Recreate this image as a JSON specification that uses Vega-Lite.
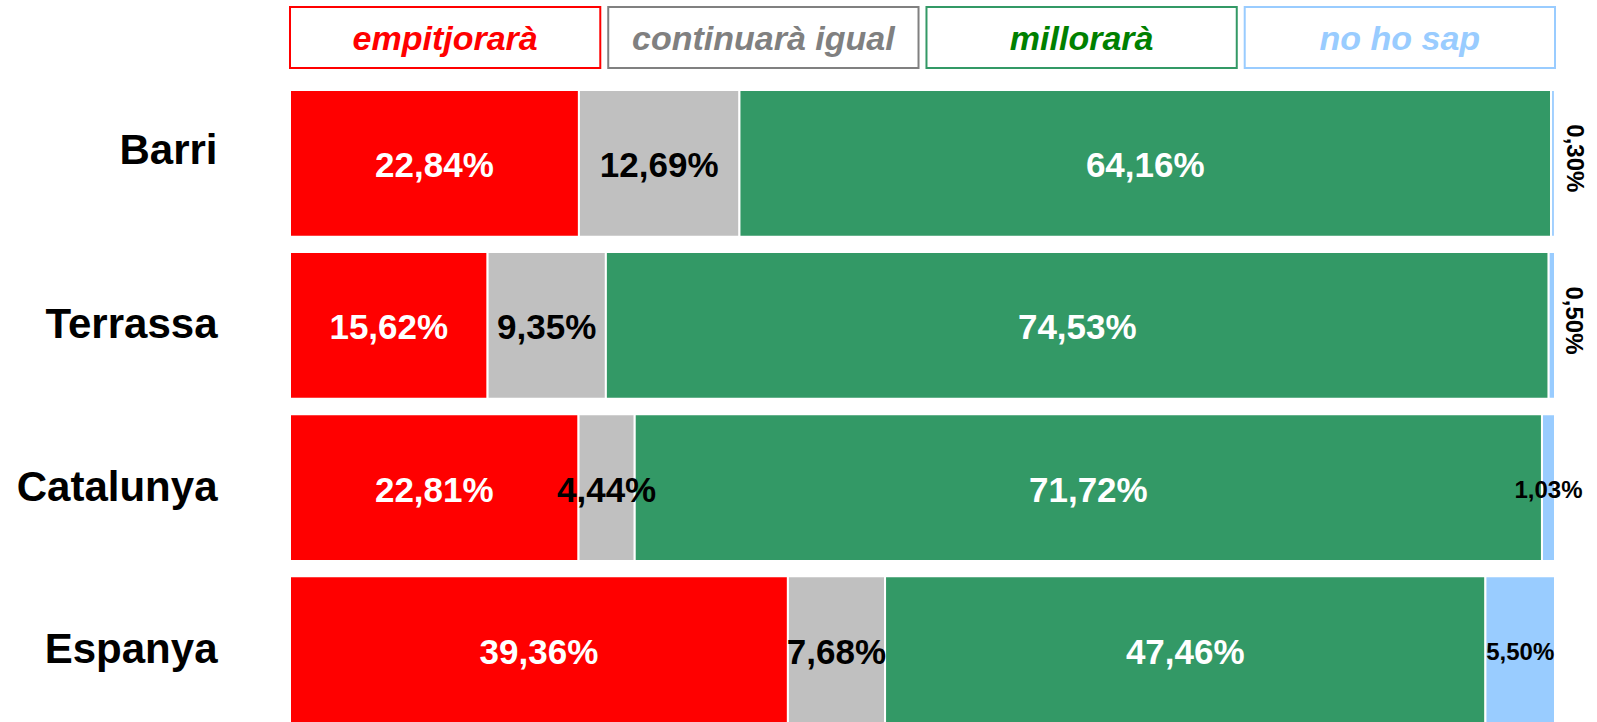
{
  "$schema": "https://vega.github.io/schema/vega-lite/v6.json",
  "padding": {"top": 6, "left": 0, "right": 0, "bottom": 0},
  "spacing": 20,
  "background": "white",
  "resolve": {"scale": {"color": "independent", "stroke": "independent"}},
  "config": {
    "view": {"stroke": null},
    "locale": {"number": {"decimal": ",", "thousands": ".", "grouping": [3], "currency": ["", " €"]}}
  },
  "datasets": {
    "cats": [
      {"cat": "empitjorarà", "k": 1},
      {"cat": "continuarà igual", "k": 2},
      {"cat": "millorarà", "k": 3},
      {"cat": "no ho sap", "k": 4}
    ],
    "results": [
      {"region": "Barri", "cat": "empitjorarà", "v": 0.2284},
      {"region": "Barri", "cat": "continuarà igual", "v": 0.1269},
      {"region": "Barri", "cat": "millorarà", "v": 0.6416},
      {"region": "Barri", "cat": "no ho sap", "v": 0.0030},
      {"region": "Terrassa", "cat": "empitjorarà", "v": 0.1562},
      {"region": "Terrassa", "cat": "continuarà igual", "v": 0.0935},
      {"region": "Terrassa", "cat": "millorarà", "v": 0.7453},
      {"region": "Terrassa", "cat": "no ho sap", "v": 0.0050},
      {"region": "Catalunya", "cat": "empitjorarà", "v": 0.2281},
      {"region": "Catalunya", "cat": "continuarà igual", "v": 0.0444},
      {"region": "Catalunya", "cat": "millorarà", "v": 0.7172},
      {"region": "Catalunya", "cat": "no ho sap", "v": 0.0103},
      {"region": "Espanya", "cat": "empitjorarà", "v": 0.3936},
      {"region": "Espanya", "cat": "continuarà igual", "v": 0.0768},
      {"region": "Espanya", "cat": "millorarà", "v": 0.4746},
      {"region": "Espanya", "cat": "no ho sap", "v": 0.0550}
    ]
  },
  "vconcat": [
    {
      "data": {"name": "cats"},
      "width": 1265,
      "height": 61,
      "encoding": {
        "x": {
          "field": "cat", "type": "nominal",
          "sort": ["empitjorarà", "continuarà igual", "millorarà", "no ho sap"],
          "axis": null,
          "scale": {"paddingInner": 0.025, "paddingOuter": 0}
        }
      },
      "layer": [
        {
          "mark": {"type": "rect", "fill": "white", "strokeWidth": 2},
          "encoding": {
            "stroke": {
              "field": "cat", "type": "nominal",
              "scale": {"domain": ["empitjorarà", "continuarà igual", "millorarà", "no ho sap"], "range": ["#FF0000", "#808080", "#339966", "#99CCFF"]},
              "legend": null
            }
          }
        },
        {
          "mark": {"type": "text", "font": "Liberation Sans", "fontSize": 34, "fontWeight": "bold", "fontStyle": "italic", "baseline": "middle", "align": "center", "dy": 2},
          "encoding": {
            "text": {"field": "cat"},
            "color": {
              "field": "cat", "type": "nominal",
              "scale": {"domain": ["empitjorarà", "continuarà igual", "millorarà", "no ho sap"], "range": ["#FF0000", "#808080", "#008000", "#99CCFF"]},
              "legend": null
            }
          }
        }
      ]
    },
    {
      "data": {"name": "results"},
      "width": 1265,
      "height": 633,
      "transform": [
        {"lookup": "cat", "from": {"data": {"name": "cats"}, "key": "cat", "fields": ["k"]}}
      ],
      "encoding": {
        "y": {
          "field": "region", "type": "nominal",
          "sort": ["Barri", "Terrassa", "Catalunya", "Espanya"],
          "scale": {"paddingInner": 0.095, "paddingOuter": 0},
          "axis": {
            "title": null, "ticks": false, "domain": false,
            "labelFont": "Liberation Sans", "labelFontSize": 42, "labelFontWeight": "bold", "labelColor": "black",
            "labelPadding": 73, "labelLimit": 0, "minExtent": 290, "maxExtent": 290,
            "labelOffset": {"condition": {"test": "datum.value === 'Barri'", "value": -12}, "value": 0}
          }
        },
        "order": {"field": "k", "type": "quantitative"},
        "detail": {"field": "cat"}
      },
      "layer": [
        {
          "mark": {"type": "bar", "stroke": "white", "strokeWidth": 2},
          "encoding": {
            "x": {"field": "v", "type": "quantitative", "stack": "zero", "scale": {"domain": [0, 1], "nice": false, "zero": true}, "axis": null},
            "color": {
              "field": "cat", "type": "nominal",
              "scale": {"domain": ["empitjorarà", "continuarà igual", "millorarà", "no ho sap"], "range": ["#FF0000", "#C0C0C0", "#339966", "#99CCFF"]},
              "legend": null
            }
          }
        },
        {
          "mark": {"type": "text", "font": "Liberation Sans", "fontSize": 35, "fontWeight": "bold", "baseline": "middle", "align": "center", "dy": 3},
          "encoding": {
            "x": {"field": "v", "type": "quantitative", "stack": "zero", "bandPosition": 0.5},
            "text": {"condition": {"test": "datum.cat === 'no ho sap'", "value": ""}, "field": "v", "type": "quantitative", "format": ".2%"},
            "color": {"condition": {"test": "datum.cat === 'continuarà igual'", "value": "black"}, "value": "white"}
          }
        },
        {
          "mark": {"type": "text", "font": "Liberation Sans", "fontSize": 24, "fontWeight": "bold", "baseline": "middle", "align": "center", "color": "black", "dy": 3},
          "encoding": {
            "x": {"field": "v", "type": "quantitative", "stack": "zero", "bandPosition": 0.5},
            "text": {"condition": {"test": "!(datum.cat === 'no ho sap' && (datum.region === 'Catalunya' || datum.region === 'Espanya'))", "value": ""}, "field": "v", "type": "quantitative", "format": ".2%"}
          }
        },
        {
          "mark": {"type": "text", "font": "Liberation Sans", "fontSize": 24, "fontWeight": "bold", "baseline": "middle", "align": "center", "color": "black", "angle": 90, "dy": -21, "dx": -5},
          "encoding": {
            "x": {"field": "v", "type": "quantitative", "stack": "zero", "bandPosition": 0.5},
            "text": {"condition": {"test": "!(datum.cat === 'no ho sap' && (datum.region === 'Barri' || datum.region === 'Terrassa'))", "value": ""}, "field": "v", "type": "quantitative", "format": ".2%"}
          }
        }
      ]
    }
  ]
}
